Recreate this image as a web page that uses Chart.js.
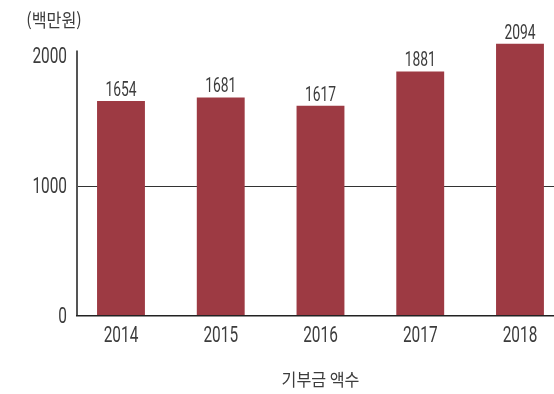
<!DOCTYPE html>
<html lang="ko">
<head>
<meta charset="UTF-8">
<title>기부금 액수</title>
<script src="https://cdn.jsdelivr.net/npm/chart.js@4.4.1/dist/chart.umd.min.js"></script>
<style>
  html, body { margin: 0; padding: 0; background: #fff; }
  #wrap { width: 554px; height: 394px; position: relative; }
</style>
</head>
<body>
<div id="wrap"><canvas id="donations"></canvas></div>
<script>
// yearly donation amounts, in millions of won
const years = [2014, 2015, 2016, 2017, 2018];
const amounts = [1654, 1681, 1617, 1881, 2094];
const yTicks = [0, 1000, 2000];

const numFont = "Roboto, 'Liberation Sans', sans-serif";
const krFont = "'Noto Sans CJK KR', sans-serif";
const textColor = '#3c3c3c';
const barColor = '#9d3a43';

// narrow text: squeeze horizontally around the anchor point
function narrowText(ctx, text, x, y, font, sx, align, baseline) {
  ctx.save();
  ctx.font = font;
  ctx.textAlign = align;
  ctx.textBaseline = baseline;
  ctx.translate(x, y);
  ctx.scale(sx, 1);
  ctx.fillText(text, 0, 0);
  ctx.restore();
}

// axis line, tick labels, value labels and titles
const extras = {
  id: 'extras',
  afterDatasetsDraw(chart) {
    const { ctx, scales: { x, y } } = chart;
    ctx.save();
    ctx.strokeStyle = '#555';
    ctx.lineWidth = 2;
    ctx.beginPath();
    ctx.moveTo(x.left, y.getPixelForValue(0));
    ctx.lineTo(x.left, y.getPixelForValue(2042));
    ctx.stroke();
    ctx.fillStyle = textColor;

    yTicks.forEach((v) => {
      narrowText(ctx, String(v), x.left - 10, y.getPixelForValue(v) + 1,
        '22px ' + numFont, 0.7, 'right', 'middle');
    });
    years.forEach((yr) => {
      narrowText(ctx, String(yr), x.getPixelForValue(yr), y.bottom + 20,
        '22px ' + numFont, 0.7, 'center', 'middle');
    });

    chart.getDatasetMeta(0).data.forEach((bar, i) => {
      narrowText(ctx, String(amounts[i]), bar.x, bar.y - 5,
        '19.5px ' + numFont, 0.71, 'center', 'alphabetic');
    });

    narrowText(ctx, '(백만원)', 54, 20, '18px ' + krFont, 0.9, 'center', 'middle');
    narrowText(ctx, '기부금 액수', x.getPixelForValue(years[2]), 380,
      '17px ' + krFont, 0.95, 'center', 'middle');
    ctx.restore();
  }
};

new Chart(document.getElementById('donations'), {
  type: 'bar',
  data: {
    datasets: [{
      data: years.map((yr, i) => ({ x: yr, y: amounts[i] })),
      backgroundColor: barColor,
      borderWidth: 0,
      barPercentage: 0.48,
      categoryPercentage: 1
    }]
  },
  options: {
    responsive: true,
    maintainAspectRatio: false,
    animation: false,
    layout: { padding: { top: 17, left: 0, right: 0, bottom: 0 } },
    plugins: { legend: { display: false }, tooltip: { enabled: false } },
    scales: {
      x: {
        type: 'linear',
        offset: false,
        min: 2013.559,
        max: 2018.341,
        afterFit: (scale) => { scale.height = 78; },
        afterBuildTicks: (scale) => { scale.ticks = years.map((v) => ({ value: v })); },
        grid: { display: true, color: 'rgba(0,0,0,0)', drawTicks: false, offset: false },
        border: { display: true, color: '#222', width: 1.5, z: 1 },
        ticks: { display: false }
      },
      y: {
        min: 0,
        max: 2300,
        afterFit: (scale) => { scale.width = 77; },
        afterBuildTicks: (scale) => { scale.ticks = yTicks.map((v) => ({ value: v })); },
        grid: {
          drawTicks: false,
          color: (c) => (c.tick && c.tick.value === yTicks[1] ? '#333' : 'rgba(0,0,0,0)'),
          lineWidth: 1
        },
        border: { display: false },
        ticks: { display: false }
      }
    }
  },
  plugins: [extras]
});
</script>
</body>
</html>
